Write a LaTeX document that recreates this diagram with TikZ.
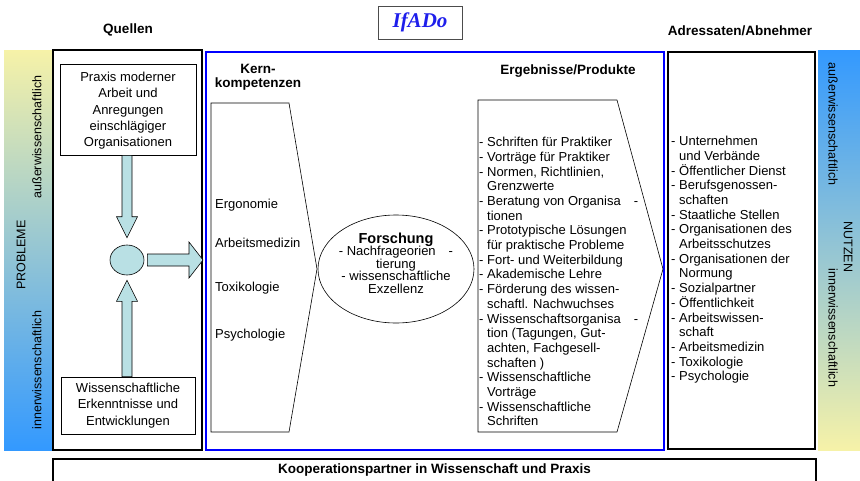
\documentclass[tikz,border=0pt]{standalone}
\usepackage{fontspec}
\setmainfont{Liberation Sans}
\newfontfamily\ifadofont{Liberation Serif}
\usepackage{tikz}
\usetikzlibrary{calc,shapes.geometric}
\usepackage{xcolor}
\definecolor{barblue}{RGB}{51,153,255}
\definecolor{baryellow}{RGB}{246,242,168}
\definecolor{barmid}{RGB}{172,196,206}
\definecolor{arrowfill}{RGB}{185,224,228}
\definecolor{ifadoblue}{RGB}{30,30,235}
\newcommand{\listfont}{\fontsize{13pt}{14.7pt}\selectfont}
\newcommand{\boxfont}{\fontsize{13pt}{16.3pt}\selectfont}
\newcommand{\headfont}{\fontsize{13.5pt}{14pt}\selectfont\bfseries}
\newcommand{\ind}{\hphantom{-\ }}
% base, tip, direction, shaft half width, head half width, head length
\newcommand{\blockarrow}[6]{%
  \draw[blockfill] ($(#1)+(#3-90:#4)$) -- ($(#2)+(#3+180:#6)+(#3-90:#4)$)
    -- ($(#2)+(#3+180:#6)+(#3-90:#5)$) -- (#2)
    -- ($(#2)+(#3+180:#6)+(#3+90:#5)$) -- ($(#2)+(#3+180:#6)+(#3+90:#4)$)
    -- ($(#1)+(#3+90:#4)$) -- cycle;}
\tikzset{outerbox/.style={draw,line width=2pt,inner sep=0pt},
  srcbox/.style={draw,semithick,align=center,font=\boxfont,inner sep=0pt},
  headline/.style={font=\headfont,align=center,inner sep=0pt},
  listtext/.style={font=\listfont,align=left,inner sep=0pt,anchor=north west},
  itemtext/.style={font=\listfont,inner sep=0pt,anchor=west},
  bartext/.style={font=\fontsize{12.5pt}{13pt}\selectfont,inner sep=0pt},
  blockfill/.style={draw,fill=arrowfill,semithick}}

\begin{document}
\begin{tikzpicture}[x=1pt,y=-1pt]
\useasboundingbox (0,0) rectangle (860,480);

\shade[top color=baryellow,middle color=barmid,bottom color=barblue] (4,50) rectangle (52,450);
\shade[top color=barblue,middle color=barmid,bottom color=baryellow] (818,50) rectangle (860,450);
\node (probleme) at (21,255)[bartext,rotate=90]{PROBLEME};
\node (ausserl) at (37,137)[bartext,rotate=90]{außerwissenschaftlich};
\node (innerl) at (37,370)[bartext,rotate=90]{innerwissenschaftlich};
\node (nutzen) at (848,247)[bartext,rotate=-90]{NUTZEN};
\node (ausserr) at (833,124)[bartext,rotate=-90]{außerwissenschaftlich};
\node (innerr) at (833,328)[bartext,rotate=-90]{innerwissenschaftlich};

\node (ifado) at (420,22.5)[draw=black!70,thick,minimum width=84pt,minimum height=33pt,
  font=\ifadofont\fontsize{21pt}{22pt}\selectfont\bfseries\itshape,text=ifadoblue]{IfADo};
\node (quellenlbl) at (128,30)[headline]{Quellen};
\node (adresslbl) at (740,31)[headline]{Adressaten/Abnehmer};

% Quellen
\node (quellen) at (127.5,250)[outerbox,minimum width=149pt,minimum height=400pt]{};
\node (praxis) at (128,109.5)[srcbox,minimum width=136pt,minimum height=91pt,text depth=0pt]
  {Praxis moderner\\Arbeit und\\Anregungen\\einschlägiger\\Organisationen};
\node (wiss) at (128,405.5)[srcbox,minimum width=134pt,minimum height=57pt]
  {Wissenschaftliche\\Erkenntnisse und\\Entwicklungen};
\node (hub) at (127,260)[draw,semithick,fill=arrowfill,ellipse,minimum width=34pt,minimum height=30pt,inner sep=0pt]{};
\coordinate (dbase) at (hub.north |- praxis.south);
\coordinate (dtip) at ([yshift=7pt]hub.north);
\coordinate (ubase) at (hub.south |- wiss.north);
\coordinate (utip) at ([yshift=-5pt]hub.south);
\coordinate (rbase) at ([xshift=3pt]hub.east);
\coordinate (rtip) at (quellen.east |- hub.east);
\blockarrow{dbase}{dtip}{-90}{5pt}{10.5pt}{21pt}
\blockarrow{ubase}{utip}{90}{5pt}{10.5pt}{21pt}
\blockarrow{rbase}{rtip}{0}{6pt}{18pt}{14pt}

% IfADo
\node (institut) at (435,251)[outerbox,draw=blue,minimum width=458pt,minimum height=398pt]{};
\node (kernlbl) at (258,77)[headline]{Kern-\\kompetenzen};
\node (ergeblbl) at (568,71)[headline]{Ergebnisse/Produkte};
\draw[semithick] (211,103) -- (289,103) -- (317,269) -- (289,432) -- (211,432) -- cycle;
\node (ergo) at (215,205)[itemtext]{Ergonomie};
\node (arbmed) at (215,243)[itemtext]{Arbeitsmedizin};
\node (toxi) at (215,288)[itemtext]{Toxikologie};
\node (psych) at (215,335)[itemtext]{Psychologie};
\node (forschung) at (396,269)[draw,semithick,ellipse,minimum width=156pt,minimum height=108pt]{};
\node (forschungtxt) at (396,263)[align=center,inner sep=0pt,font=\fontsize{13pt}{12.5pt}\selectfont]
  {{\fontsize{14.5pt}{15pt}\selectfont\bfseries Forschung}\\- Nachfrageorien\quad-\\tierung\\- wissenschaftliche\\Exzellenz};
\draw[semithick] (478,100) -- (617,100) -- (663,269) -- (617,432) -- (478,432) -- cycle;
\node (produkte) at (479,137)[listtext]
  {- Schriften für Praktiker\\- Vorträge für Praktiker\\- Normen, Richtlinien,\\\ind Grenzwerte\\
   - Beratung von Organisa\quad-\\\ind tionen\\- Prototypische Lösungen\\\ind für praktische Probleme\\
   - Fort- und Weiterbildung\\- Akademische Lehre\\- Förderung des wissen-\\\ind schaftl. Nachwuchses\\
   - Wissenschaftsorganisa\quad-\\\ind tion (Tagungen, Gut-\\\ind achten, Fachgesell-\\\ind schaften )\\
   - Wissenschaftliche\\\ind Vorträge\\- Wissenschaftliche\\\ind Schriften};

% Adressaten
\node (adressaten) at (741.5,250.5)[outerbox,minimum width=147pt,minimum height=397pt]{};
\node (abnehmer) at (671,136)[listtext]
  {- Unternehmen\\\ind und Verbände\\- Öffentlicher Dienst\\- Berufsgenossen-\\\ind schaften\\
   - Staatliche Stellen\\- Organisationen des\\\ind Arbeitsschutzes\\- Organisationen der\\\ind Normung\\
   - Sozialpartner\\- Öffentlichkeit\\- Arbeitswissen-\\\ind schaft\\- Arbeitsmedizin\\
   - Toxikologie\\- Psychologie};

\node (partner) at (434.5,470.5)[outerbox,minimum width=763pt,minimum height=23pt,font=\headfont]
  {Kooperationspartner in Wissenschaft und Praxis};
\end{tikzpicture}
\end{document}
